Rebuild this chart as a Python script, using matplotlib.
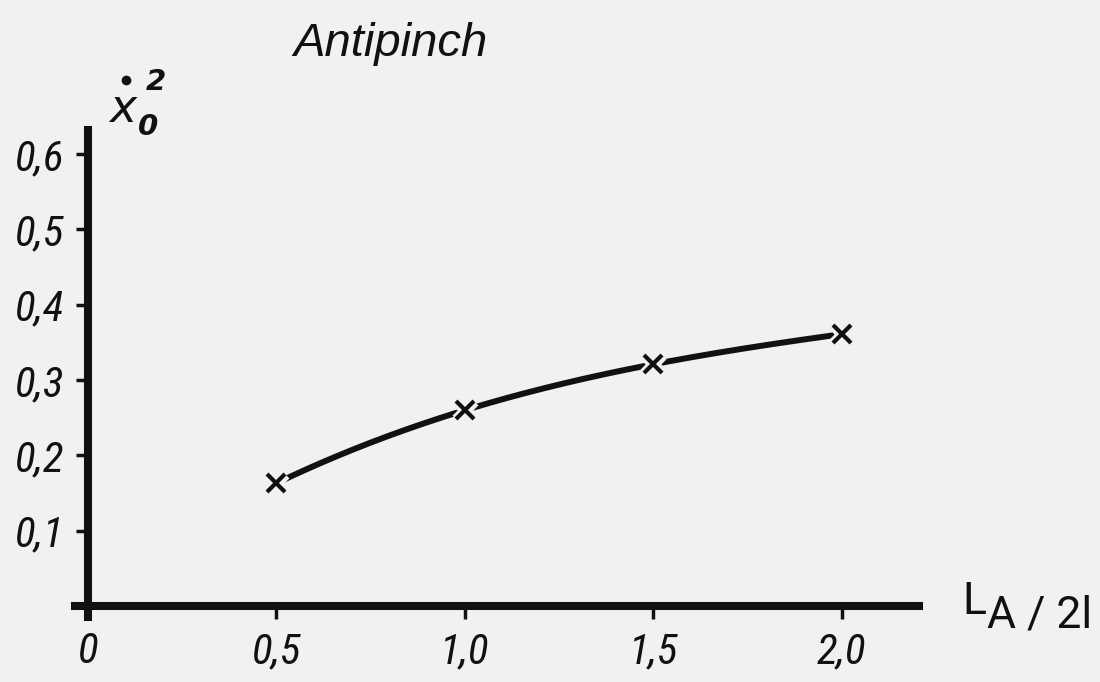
import numpy as np
import matplotlib
matplotlib.use('Agg')
import matplotlib.pyplot as plt
import matplotlib.patheffects as pe
from matplotlib.lines import Line2D

# data
la_2l = [0.5, 1.0, 1.5, 2.0]
x0_sq = [0.163, 0.260, 0.321, 0.361]

xticks = [0, 0.5, 1.0, 1.5, 2.0]
xtick_labels = ['0', '0,5', '1,0', '1,5', '2,0']
yticks = [0.1, 0.2, 0.3, 0.4, 0.5, 0.6]
ytick_labels = ['0,1', '0,2', '0,3', '0,4', '0,5', '0,6']

plt.rcParams['font.family'] = ['Roboto Condensed', 'DejaVu Sans']
plt.rcParams['font.stretch'] = 'condensed'
plt.rcParams['font.style'] = 'italic'

paper = '#f1f1f1'
ink = '#111111'
W, H = 1100, 682

fig = plt.figure(figsize=(11, 6.82), dpi=100, facecolor=paper)
ax = fig.add_axes([0.0682, 0.0953, 0.767, 0.714])
ax.set_facecolor(paper)

ax.set_xlim(-0.034, 2.204)
ax.set_ylim(-0.0146, 0.632)

for s in ['top', 'right']:
    ax.spines[s].set_visible(False)
for s in ['left', 'bottom']:
    ax.spines[s].set_position(('data', 0))
    ax.spines[s].set_linewidth(5.8)
    ax.spines[s].set_color(ink)

ax.set_xticks(xticks)
ax.set_xticklabels(xtick_labels)
ax.set_yticks(yticks)
ax.set_yticklabels(ytick_labels)
ax.tick_params(axis='both', direction='out', length=9, width=2.5, color=ink,
               labelsize=31, labelcolor=ink)
ax.tick_params(axis='x', pad=9)
ax.tick_params(axis='y', pad=8)

# smooth hand-drawn style curve through the points
coef = np.polyfit(la_2l, x0_sq, 3)
xs = np.linspace(la_2l[0], la_2l[-1], 200)
ax.plot(xs, np.polyval(coef, xs), color=ink, lw=4.3, solid_capstyle='round')
ax.plot(la_2l, x0_sq, linestyle='none', marker='x', ms=13, mew=3, color=ink,
        path_effects=[pe.Stroke(linewidth=8, foreground=paper), pe.Normal()])


def ftext(px, py, s, **kw):
    # place text by pixel position (from top-left) in the figure
    fig.text(px / W, 1 - py / H, s, color=ink, **kw)


ftext(390, 44, 'Antipinch', fontsize=34, style='italic', stretch='normal',
      family=['Liberation Sans', 'DejaVu Sans'], ha='center', va='center')

# y label: x with dot, subscript 0, superscript 2
ylab = dict(family=['DejaVu Sans'], stretch='normal', style='italic', ha='left', va='baseline')
ftext(109, 122, 'x', fontsize=33, **ylab)
fig.add_artist(Line2D([126 / W], [1 - 80 / H], transform=fig.transFigure,
                      marker='o', ms=6, color=ink, linestyle='none'))
ftext(138, 135, '0', fontsize=21, weight='bold', **ylab)
ftext(146, 90, '2', fontsize=21, weight='bold', **ylab)

# x label: L_A/2l
xlab = dict(family=['Roboto', 'DejaVu Sans'], stretch='normal', style='normal',
            ha='left', va='baseline')
ftext(962, 614, 'L', fontsize=32, **xlab)
ftext(987, 628, 'A / 2l', fontsize=32, **xlab)

fig.savefig('out.png', dpi=100, facecolor=paper)
